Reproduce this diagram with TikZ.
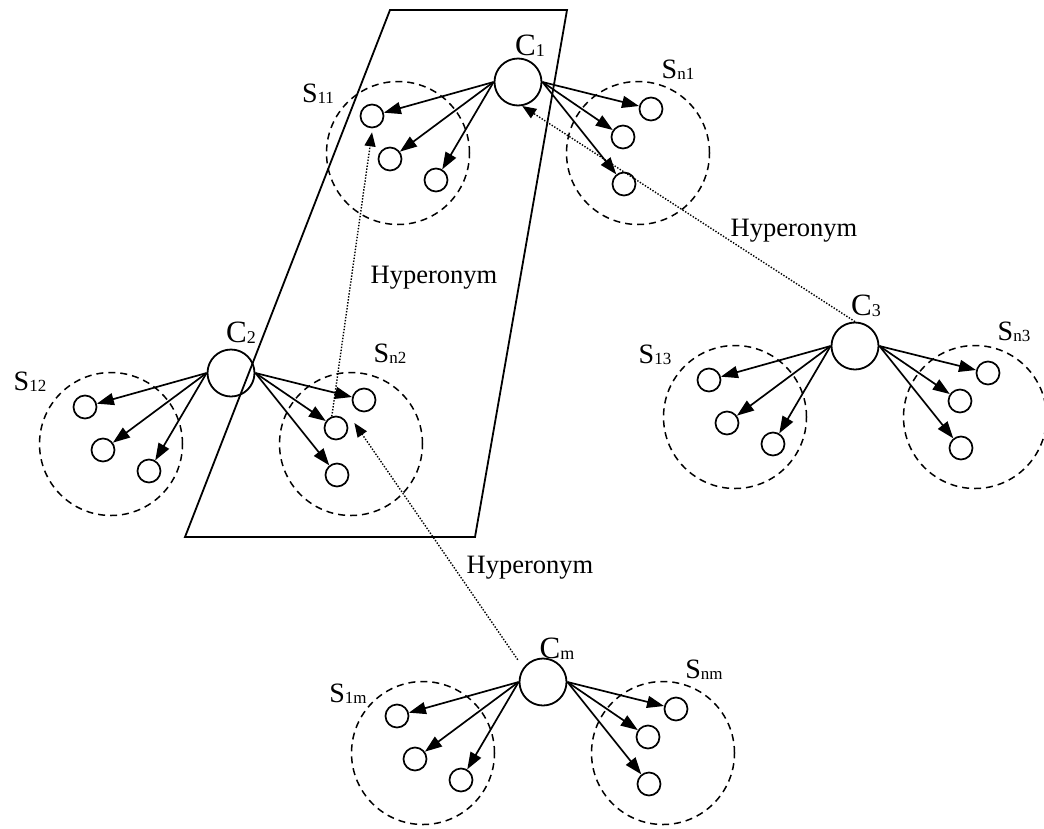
\documentclass[tikz,border=0pt]{standalone}
\usepackage{fontspec}
\setmainfont{Liberation Serif}
\usetikzlibrary{arrows.meta,calc}
\newcommand\csub[1]{\raisebox{-1pt}{\fontsize{18}{18}\selectfont #1}}
\newcommand\ssub[1]{\raisebox{-1pt}{\fontsize{17}{17}\selectfont #1}}
\newcommand\mycluster[3]{%
  \begin{scope}[shift={(#2,#3)}]
    \node[groupc] (#1-L) at (-120,71) {};
    \node[groupc] (#1-R) at (120,71) {};
    \node[bigc] (#1) at (0,0) {};
    \node[smallc] (#1-la) at (-146,34) {};
    \node[smallc] (#1-lb) at (-128,77) {};
    \node[smallc] (#1-lc) at (-82,98) {};
    \node[smallc] (#1-ra) at (133,27) {};
    \node[smallc] (#1-rb) at (105,55) {};
    \node[smallc] (#1-rc) at (106,102) {};
  \end{scope}
  \draw[arr] (#1.west) -- (#1-la);
  \draw[arr] (#1.west) -- (#1-lb);
  \draw[arr] (#1.west) -- (#1-lc);
  \draw[arr] (#1.east) -- (#1-ra);
  \draw[arr] (#1.east) -- (#1-rb);
  \draw[arr] (#1.east) -- (#1-rc);
}
\begin{document}
\begin{tikzpicture}[x=1pt,y=-1pt,
  bigc/.style={circle,draw,line width=1.8pt,minimum size=47pt,inner sep=0pt},
  smallc/.style={circle,draw,line width=1.7pt,minimum size=23pt,inner sep=0pt},
  groupc/.style={circle,draw,line width=1.5pt,dash pattern=on 7pt off 5pt,minimum size=143pt,inner sep=0pt},
  arr/.style={line width=1.7pt,-{Triangle[length=17pt,width=12pt]}},
  hyp/.style={line width=1.4pt,dash pattern=on 1.4pt off 1.6pt,-{Triangle[length=14pt,width=11pt]}},
  clab/.style={inner sep=0pt,anchor=base,font=\fontsize{31}{31}\selectfont},
  slab/.style={inner sep=0pt,anchor=base,font=\fontsize{28}{28}\selectfont},
  hlab/.style={inner sep=0pt,anchor=base,font=\fontsize{26.5}{26.5}\selectfont}]
\useasboundingbox (0,0) rectangle (1044,828);
% parallelogram
\draw[line width=1.8pt] (390,10) -- (567,10) -- (475,537) -- (185,537) -- cycle;
% clusters
\mycluster{C1}{518}{82}
\mycluster{C2}{231}{373}
\mycluster{C3}{855}{346}
\mycluster{Cm}{543}{682}
% labels
\node[clab] (lC1) at (530,55) {C\csub{1}};
\node[clab] (lC2) at (241,342) {C\csub{2}};
\node[clab] (lC3) at (866,315) {C\csub{3}};
\node[clab] (lCm) at (557,658) {C\csub{m}};
\node[slab] (lS11) at (318,102) {S\ssub{11}};
\node[slab] (lS12) at (30,390) {S\ssub{12}};
\node[slab] (lS13) at (655,363) {S\ssub{13}};
\node[slab] (lS1m) at (348,702) {S\ssub{1m}};
\node[slab] (lSn1) at (678,78) {S\ssub{n1}};
\node[slab] (lSn2) at (390,362) {S\ssub{n2}};
\node[slab] (lSn3) at (1014,340) {S\ssub{n3}};
\node[slab] (lSnm) at (704,678) {S\ssub{nm}};
% hyperonym links
\coordinate (h1s) at (C2-rb.110);
\coordinate (h1e) at ([yshift=-4pt]C1-la.south);
\draw[hyp] (h1s) -- (h1e);
\draw[hyp] (C3.north) -- (C1.-80);
\coordinate (h3s) at ([xshift=-8pt,yshift=5pt]Cm.135);
\coordinate (h3e) at ([xshift=6pt,yshift=5pt]C2-rb.east);
\draw[hyp] (h3s) -- (h3e);
\node[hlab] (hy1) at (434,283) {Hyperonym};
\node[hlab] (hy2) at (794,236) {Hyperonym};
\node[hlab] (hy3) at (530,573) {Hyperonym};
\end{tikzpicture}
\end{document}
